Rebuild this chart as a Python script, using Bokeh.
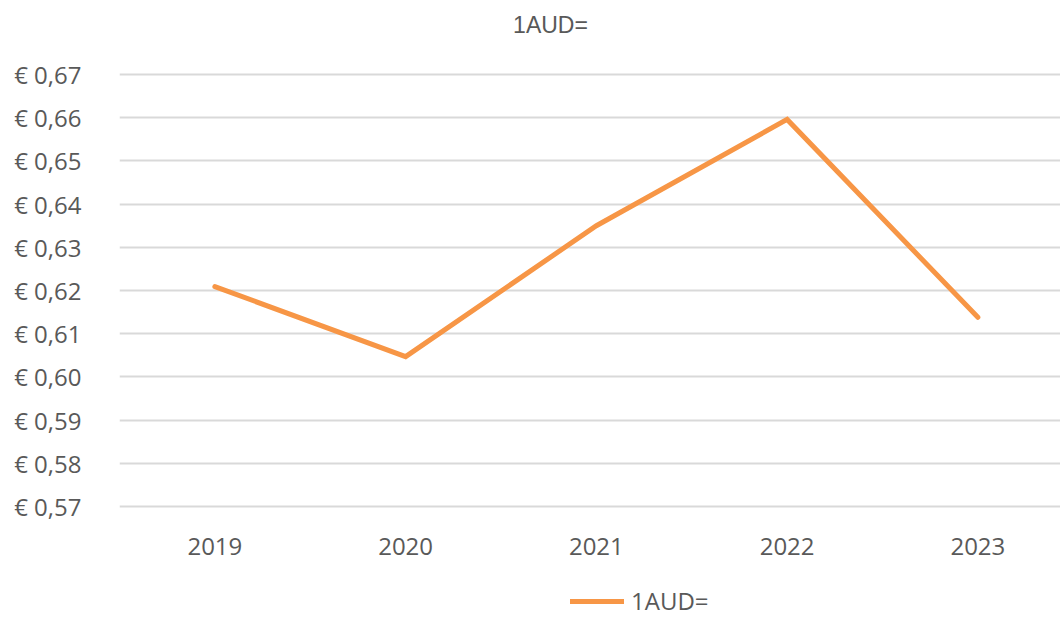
from bokeh.plotting import figure
from bokeh.layouts import column
from bokeh.models import (Range1d, FixedTicker, CustomJSTickFormatter, Legend, LegendItem,
                          ColumnDataSource, Label)
from bokeh.embed import file_html
from bokeh.resources import INLINE

years = [2019, 2020, 2021, 2022, 2023]
rates = [0.6209, 0.6047, 0.6350, 0.6596, 0.6138]
y_ticks = [0.57, 0.58, 0.59, 0.60, 0.61, 0.62, 0.63, 0.64, 0.65, 0.66, 0.67]
series_name = "1AUD="
title_text = "1AUD="

LINE = "#F79646"
TXT = "#595959"
GRID = "#D9D9D9"
FONT = "Open Sans"

src = ColumnDataSource(dict(x=years, y=rates))

# layout constants (pixels)
W, H_MAIN, H_LEG = 1060, 582, 36
LEFT, BOTTOM = 119, 74
PX_PER_YEAR = 190.75
PX_PER_UNIT = 4320.0          # pixels per 1.0 on the value axis
FRAME_TOP_PAD = 74            # space above the 0.67 grid line, inside frame
x_start = min(years) - 0.5
x_end = x_start + (W - LEFT) / PX_PER_YEAR
y_start = min(y_ticks) - 2 / PX_PER_UNIT
y_end = max(y_ticks) + FRAME_TOP_PAD / PX_PER_UNIT

p = figure(width=W, height=H_MAIN, output_backend="svg", toolbar_location=None, title=None,
           x_range=Range1d(x_start, x_end), y_range=Range1d(y_start, y_end),
           min_border_left=LEFT, min_border_right=0, min_border_top=0, min_border_bottom=BOTTOM)
p.outline_line_color = None
p.background_fill_color = "white"
p.border_fill_color = "white"

r = p.line("x", "y", source=src, line_color=LINE, line_width=5, line_cap="round", line_join="miter")

p.xaxis.ticker = FixedTicker(ticks=years)
p.yaxis.ticker = FixedTicker(ticks=y_ticks)
p.yaxis.formatter = CustomJSTickFormatter(code="return '\u20ac ' + tick.toFixed(2).replace('.', ',');")

for ax in (p.xaxis[0], p.yaxis[0]):
    ax.axis_line_color = None
    ax.major_tick_line_color = None
    ax.minor_tick_line_color = None
    ax.major_label_text_font = FONT
    ax.major_label_text_font_size = "24px"
    ax.major_label_text_color = TXT
p.xaxis.major_label_standoff = 23
p.yaxis.major_label_standoff = 32

p.xgrid.grid_line_color = None
p.ygrid.grid_line_color = GRID
p.ygrid.grid_line_width = 2

# chart title, centred at page x=550, y=24
title = Label(x=x_start + (550 - LEFT) / PX_PER_YEAR,
              y=max(y_ticks) + (FRAME_TOP_PAD - 24) / PX_PER_UNIT,
              text=title_text, text_align="center", text_baseline="middle",
              text_font="Liberation Sans", text_font_size="23px", text_color=TXT)
p.add_layout(title)

# legend strip below the chart
lp = figure(width=W, height=H_LEG, output_backend="svg", toolbar_location=None, title=None,
            x_range=p.x_range, y_range=Range1d(10, 11), x_axis_type=None, y_axis_type=None,
            min_border_left=LEFT, min_border_right=0, min_border_top=0, min_border_bottom=0)
lp.outline_line_color = None
lp.grid.visible = False
lp.background_fill_color = "white"
lp.border_fill_color = "white"
lr = lp.line("x", "y", source=src, line_color=LINE, line_width=5, line_cap="round")

legend = Legend(items=[LegendItem(label=series_name, renderers=[lr])],
                location=(451, 1), orientation="horizontal",
                glyph_width=54, glyph_height=20, label_standoff=7, padding=0, margin=0,
                border_line_color=None, background_fill_alpha=0,
                label_text_font=FONT, label_text_font_size="24px", label_text_color=TXT)
lp.add_layout(legend)

layout = column(p, lp, spacing=0)
open("out.html", "w").write(file_html(layout, INLINE))
